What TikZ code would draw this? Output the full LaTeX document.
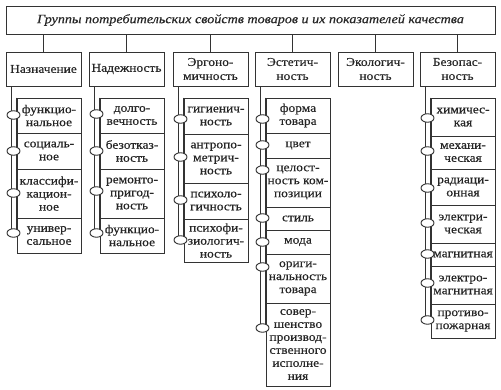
\documentclass[tikz,border=0pt]{standalone}
\usepackage{fontspec}
\setmainfont{Liberation Serif}[FakeStretch=1.12, FakeBold=0.4]
\usetikzlibrary{shapes.geometric,calc}

\begin{document}
\begin{tikzpicture}[x=1pt,y=-1pt, line width=0.9pt, draw=black!80,
    every node/.style={font=\fontsize{12}{13}\selectfont, inner sep=0pt, text=black!85},
    titlebox/.style={draw, minimum width=489pt, minimum height=28pt, font=\fontsize{12.6}{15}\selectfont\itshape},
    groupbox/.style={draw, align=center, minimum width=75pt, minimum height=34pt, font=\fontsize{12}{14}\selectfont},
    itembox/.style={draw, fill=white, align=center, minimum width=64pt},
    ring/.style={draw, ellipse, fill=white, minimum width=13pt, minimum height=8.5pt}]
    \useasboundingbox (0,0) rectangle (501,390);
    \node[titlebox] (t) at (250.5,20) {Группы потребительских свойств товаров и их показателей качества};
    \node[groupbox] (g1) at (43.5,69) {Назначение};
    \node[groupbox] (g2) at (126.5,69) {Надежность};
    \node[groupbox] (g3) at (210.5,69) {Эргоно-\\мичность};
    \node[groupbox] (g4) at (292.5,69) {Эстетич-\\ность};
    \node[groupbox] (g5) at (375.5,69) {Экологич-\\ность};
    \node[groupbox] (g6) at (457.5,69) {Безопас-\\ность};
    \draw (t.south -| g1) -- (g1);
    \draw (t.south -| g2) -- (g2);
    \draw (t.south -| g3) -- (g3);
    \draw (t.south -| g4) -- (g4);
    \draw (t.south -| g5) -- (g5);
    \draw (t.south -| g6) -- (g6);

    \node[itembox, minimum height=35pt] (a1) at (49,115.5) {функцио-\\нальное};
    \node[itembox, minimum height=36pt] (a2) at (49,151) {социаль-\\ное};
    \node[itembox, minimum height=49pt] (a3) at (49,193.5) {классифи-\\кацион-\\ное};
    \node[itembox, minimum height=35pt] (a4) at (49,235.5) {универ-\\сальное};

    \node[itembox, minimum height=35pt] (b1) at (132,115.5) {долго-\\вечность};
    \node[itembox, minimum height=36pt] (b2) at (132,151) {безотказ-\\ность};
    \node[itembox, minimum height=49pt] (b3) at (132,193.5) {ремонто-\\пригод-\\ность};
    \node[itembox, minimum height=35pt] (b4) at (132,235.5) {функцио-\\нальное};

    \node[itembox, minimum height=36pt] (c1) at (216,116) {гигиенич-\\ность};
    \node[itembox, minimum height=49pt] (c2) at (216,158.5) {антропо-\\метрич-\\ность};
    \node[itembox, minimum height=36pt] (c3) at (216,201) {психоло-\\гичность};
    \node[itembox, minimum height=43pt] (c4) at (216,240.5) {психофи-\\зиологич-\\ность};

    \node[itembox, minimum height=35pt] (d1) at (298,115.5) {форма\\товара};
    \node[itembox, minimum height=25pt] (d2) at (298,145.5) {цвет};
    \node[itembox, minimum height=49pt] (d3) at (298,182.5) {целост-\\ность ком-\\позиции};
    \node[itembox, minimum height=23pt] (d4) at (298,218.5) {стиль};
    \node[itembox, minimum height=24pt] (d5) at (298,242) {мода};
    \node[itembox, minimum height=49pt] (d6) at (298,278.5) {ориги-\\нальность\\товара};
    \node[itembox, minimum height=83pt] (d7) at (298,344.5) {совер-\\шенство\\производ-\\ственного\\исполне-\\ния};

    \node[itembox, minimum height=38pt] (f1) at (463,117) {химичес-\\кая};
    \node[itembox, minimum height=33pt] (f2) at (463,152.5) {механи-\\ческая};
    \node[itembox, minimum height=36pt] (f3) at (463,187) {радиаци-\\онная};
    \node[itembox, minimum height=38pt] (f4) at (463,224) {электри-\\ческая};
    \node[itembox, minimum height=23pt] (f5) at (463,254.5) {магнитная};
    \node[itembox, minimum height=38pt] (f6) at (463,285) {электро-\\магнитная};
    \node[itembox, minimum height=34pt] (f7) at (463,321) {противо-\\пожарная};

    \coordinate (sa) at (13.5,233);
    \coordinate (sb) at (96.5,233);
    \coordinate (sc) at (180.5,240);
    \coordinate (sd) at (262.5,328);
    \coordinate (sf) at (427.5,320);

    \draw ($(g1.south -| sa)+(-2.5,0)$) -- ($(sa)+(-2.5,0)$);
    \draw ($(a1.north -| sa)+(2.5,0)$) -- ($(sa)+(2.5,0)$);
    \draw ($(g2.south -| sb)+(-2.5,0)$) -- ($(sb)+(-2.5,0)$);
    \draw ($(b1.north -| sb)+(2.5,0)$) -- ($(sb)+(2.5,0)$);
    \draw ($(g3.south -| sc)+(-2.5,0)$) -- ($(sc)+(-2.5,0)$);
    \draw ($(c1.north -| sc)+(2.5,0)$) -- ($(sc)+(2.5,0)$);
    \draw ($(g4.south -| sd)+(-2.5,0)$) -- ($(sd)+(-2.5,0)$);
    \draw ($(d1.north -| sd)+(2.5,0)$) -- ($(sd)+(2.5,0)$);
    \draw ($(g6.south -| sf)+(-2.5,0)$) -- ($(sf)+(-2.5,0)$);
    \draw ($(f1.north -| sf)+(2.5,0)$) -- ($(sf)+(2.5,0)$);

    \node[ring] (ra1) at (13.5,115) {};
    \node[ring] (ra2) at (13.5,151) {};
    \node[ring] (ra3) at (13.5,193) {};
    \node[ring] (ra4) at (sa) {};
    \node[ring] (rb1) at (96.5,114) {};
    \node[ring] (rb2) at (96.5,151) {};
    \node[ring] (rb3) at (96.5,191) {};
    \node[ring] (rb4) at (sb) {};
    \node[ring] (rc1) at (180.5,119) {};
    \node[ring] (rc2) at (180.5,157) {};
    \node[ring] (rc3) at (180.5,200) {};
    \node[ring] (rc4) at (sc) {};
    \node[ring] (rd1) at (262.5,119) {};
    \node[ring] (rd2) at (262.5,145) {};
    \node[ring] (rd3) at (262.5,170) {};
    \node[ring] (rd4) at (262.5,218) {};
    \node[ring] (rd5) at (262.5,242) {};
    \node[ring] (rd6) at (262.5,267) {};
    \node[ring] (rd7) at (sd) {};
    \node[ring] (rf1) at (427.5,118) {};
    \node[ring] (rf2) at (427.5,151) {};
    \node[ring] (rf3) at (427.5,188) {};
    \node[ring] (rf4) at (427.5,223) {};
    \node[ring] (rf5) at (427.5,254) {};
    \node[ring] (rf6) at (427.5,283) {};
    \node[ring] (rf7) at (sf) {};
\end{tikzpicture}
\end{document}
